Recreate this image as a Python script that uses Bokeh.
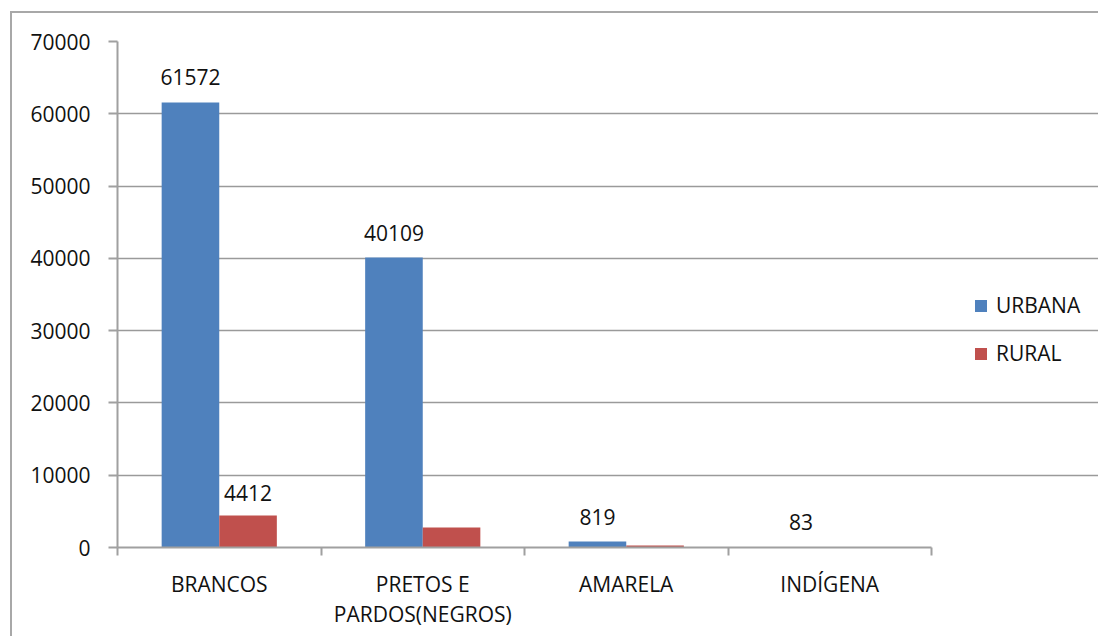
from bokeh.plotting import figure
from bokeh.models import ColumnDataSource, FixedTicker, Legend, LegendItem
from bokeh.embed import file_html
from bokeh.resources import INLINE
from bokeh.core.properties import value

categories = ["BRANCOS", "PRETOS E\nPARDOS(NEGROS)", "AMARELA", "INDÍGENA"]
urbana = [61572, 40109, 819, 83]
rural = [4412, 2750, 280, 0]
urbana_labels = ["61572", "40109", "819", "83"]
rural_labels = ["4412", "", "", ""]
y_ticks = [0, 10000, 20000, 30000, 40000, 50000, 60000, 70000]

FONT = "Open Sans"
BLUE = "#4F81BD"
RED = "#C0504D"
GRAY = "#a0a0a0"

n = len(categories)
idx = list(range(n))
x_urb = [i + 0.5 - 0.1415 for i in idx]
x_rur = [i + 0.5 + 0.1415 for i in idx]

src_u = ColumnDataSource(dict(x=x_urb, top=urbana, lab=urbana_labels))
src_r = ColumnDataSource(dict(x=x_rur, top=rural, lab=rural_labels))

# frame spans to the right edge; plot area (categories) occupies 814 of 983 px
x_end = n * 983 / 814
p = figure(width=1088, height=625, x_range=(0, x_end), y_range=(0, 70000),
           output_backend="svg", toolbar_location=None,
           min_border_left=105, min_border_top=28, min_border_right=0, min_border_bottom=91)
p.styles = {"margin-left": "10px", "margin-top": "11px",
            "border-left": "2px solid #a8a8a8", "border-top": "2px solid #a8a8a8"}
p.outline_line_color = None
p.background_fill_color = "white"
p.border_fill_color = "white"

ru = p.vbar(x="x", top="top", width=0.283, source=src_u, fill_color=BLUE, line_color=None)
rr = p.vbar(x="x", top="top", width=0.283, source=src_r, fill_color=RED, line_color=None)

p.text(x="x", y="top", text="lab", source=src_u, text_align="center", text_baseline="bottom",
       y_offset=-17, text_font=value(FONT), text_font_size="21px", text_color="#111111")
p.text(x="x", y="top", text="lab", source=src_r, text_align="center", text_baseline="bottom",
       y_offset=-15, text_font=value(FONT), text_font_size="21px", text_color="#111111")

# y axis
p.yaxis.ticker = FixedTicker(ticks=y_ticks, minor_ticks=[])
p.yaxis.axis_line_color = GRAY
p.yaxis.axis_line_width = 2
p.yaxis.major_tick_line_color = GRAY
p.yaxis.major_tick_line_width = 2
p.yaxis.major_tick_out = 9
p.yaxis.major_tick_in = 0
p.yaxis.major_label_standoff = 18
p.yaxis.major_label_text_font = FONT
p.yaxis.major_label_text_font_size = "21px"
p.yaxis.major_label_text_color = "#111111"
p.yaxis.formatter.use_scientific = False

# x axis
centers = [i + 0.5 for i in idx]
p.xaxis.bounds = (0, n)
p.xaxis.ticker = FixedTicker(ticks=centers, minor_ticks=list(range(n + 1)))
p.xaxis.major_label_overrides = {c: lab for c, lab in zip(centers, categories)}
p.xaxis.major_tick_line_color = None
p.xaxis.minor_tick_line_color = GRAY
p.xaxis.minor_tick_line_width = 2
p.xaxis.minor_tick_out = 8
p.xaxis.minor_tick_in = 0
p.xaxis.axis_line_color = GRAY
p.xaxis.axis_line_width = 2
p.xaxis.major_label_standoff = 14
p.xaxis.major_label_text_font = FONT
p.xaxis.major_label_text_font_size = "21px"
p.xaxis.major_label_text_color = "#111111"
p.xaxis.major_label_text_line_height = 1.1

p.xgrid.grid_line_color = None
p.ygrid.ticker = FixedTicker(ticks=y_ticks)
p.ygrid.bounds = (0, n)
p.ygrid.grid_line_color = "#9a9a9a"
p.ygrid.grid_line_width = 1.6

legend = Legend(items=[LegendItem(label="URBANA", renderers=[ru]),
                       LegendItem(label="RURAL", renderers=[rr])],
                location=(856, 180), padding=0, margin=0, spacing=20,
                glyph_width=15, glyph_height=15, label_height=20, label_standoff=8,
                label_text_font=FONT, label_text_font_size="21px", label_text_color="#111111",
                border_line_color=None, background_fill_alpha=0)
p.add_layout(legend)

open("out.html", "w").write(file_html(p, INLINE))
